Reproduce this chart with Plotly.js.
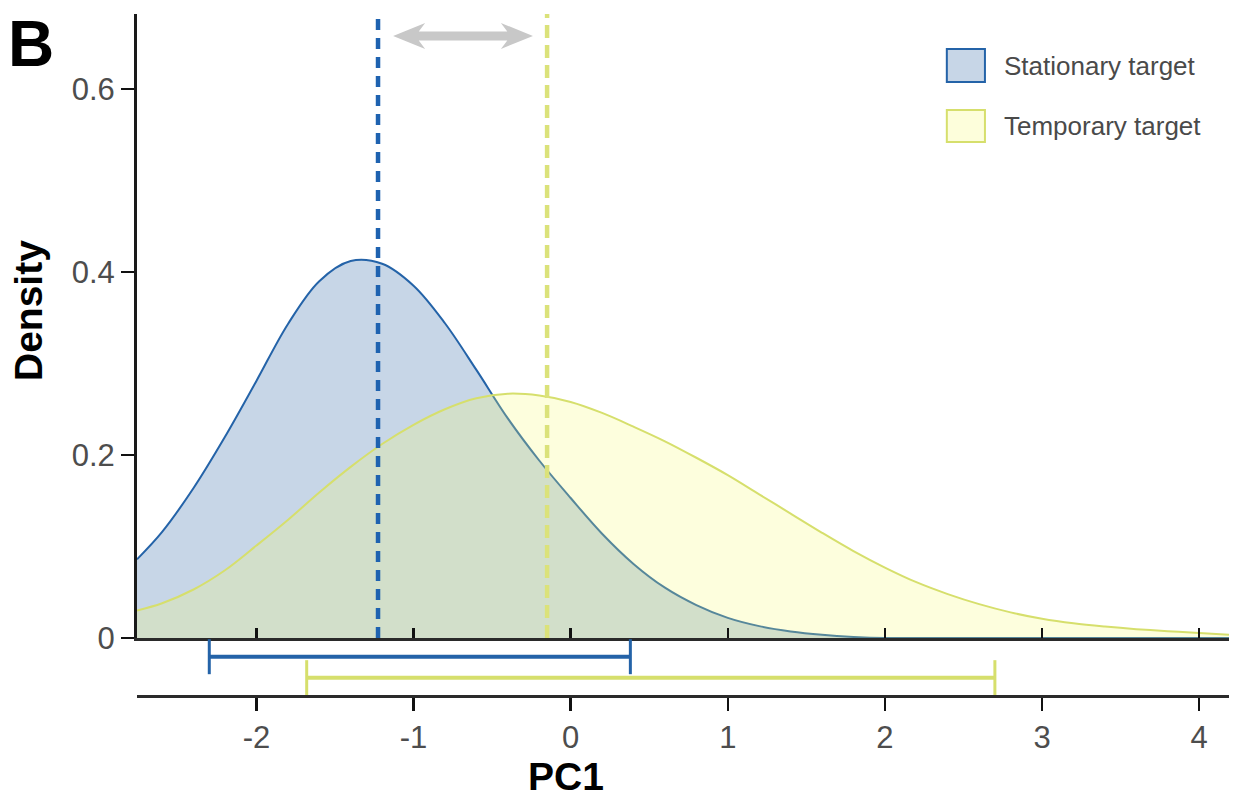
<!DOCTYPE html>
<html>
<head>
<meta charset="utf-8">
<script src="https://cdn.plot.ly/plotly-3.0.1.min.js"></script>
<style>html,body{margin:0;padding:0;background:#fff;}#chart{width:1242px;height:802px;}</style>
</head>
<body>
<div id="chart"></div>
<script>
// ---- data ----
const stationaryX = [-2.76, -2.6, -2.4, -2.2, -2.0, -1.8, -1.6, -1.4, -1.2, -1.0, -0.8, -0.6, -0.4, -0.2, 0.0, 0.2, 0.4, 0.6, 0.8, 1.0, 1.2, 1.4, 1.6, 1.8, 2.0, 2.4, 2.8, 3.2, 3.6, 4.0, 4.19];
const stationaryDensity = [0.086, 0.116, 0.164, 0.220, 0.281, 0.343, 0.390, 0.412, 0.409, 0.385, 0.344, 0.293, 0.240, 0.194, 0.153, 0.114, 0.081, 0.055, 0.036, 0.022, 0.013, 0.0072, 0.0035, 0.0012, 0.0, 0.0, 0.0, 0.0, 0.0, 0.0, 0.0];
const temporaryX = [-2.76, -2.6, -2.4, -2.2, -2.0, -1.8, -1.6, -1.4, -1.2, -1.0, -0.8, -0.6, -0.4, -0.2, 0.0, 0.2, 0.4, 0.6, 0.8, 1.0, 1.2, 1.4, 1.6, 1.8, 2.0, 2.2, 2.4, 2.6, 2.8, 3.0, 3.2, 3.4, 3.6, 3.8, 4.0, 4.19];
const temporaryDensity = [0.030, 0.038, 0.053, 0.074, 0.101, 0.129, 0.159, 0.187, 0.212, 0.233, 0.250, 0.262, 0.267, 0.265, 0.258, 0.246, 0.231, 0.215, 0.197, 0.178, 0.157, 0.136, 0.115, 0.095, 0.077, 0.061, 0.048, 0.037, 0.028, 0.021, 0.016, 0.0125, 0.0097, 0.0075, 0.0055, 0.0035];
const groupMeans = [-1.226, -0.150];          // stationary, temporary
const stationaryInterval = [-2.30, 0.38];
const temporaryInterval = [-1.68, 2.70];
const arrowEnds = [-1.13, -0.24];
const seriesNames = ["Stationary target", "Temporary target"];
const xTicks = [-2, -1, 0, 1, 2, 3, 4];
const xTickText = ["-2", "-1", "0", "1", "2", "3", "4"];
const yTicks = [0, 0.2, 0.4, 0.6];
const yTickText = ["0", "0.2", "0.4", "0.6"];

// ---- styles ----
const blueLine = "#2463a8", blueFill = "rgba(30,90,160,0.25)", blueDash = "#1e62b0";
const yelLine = "#d6df6c", yelFill = "rgba(247,251,113,0.24)", yelDash = "#dbe27a";
const FONT = "Liberation Sans, Arial, Helvetica, sans-serif";
const xRange = [-2.76, 4.19];
const lowerFrac = 0.0837;

const traces = [
  {x: stationaryX, y: stationaryDensity, type: "scatter", mode: "lines", line: {color: blueLine, width: 2, shape: "spline", smoothing: 1},
   fill: "tozeroy", fillcolor: blueFill, xaxis: "x", yaxis: "y", hoverinfo: "skip", showlegend: false},
  {x: temporaryX, y: temporaryDensity, type: "scatter", mode: "lines", line: {color: yelLine, width: 2, shape: "spline", smoothing: 1},
   fill: "tozeroy", fillcolor: yelFill, xaxis: "x", yaxis: "y", hoverinfo: "skip", showlegend: false},
  {x: stationaryInterval, y: [0.672, 0.672], type: "scatter", mode: "lines+markers", line: {color: blueLine, width: 4},
   marker: {symbol: "line-ns", size: 25, line: {color: blueLine, width: 3}}, xaxis: "x2", yaxis: "y2", showlegend: false, hoverinfo: "skip"},
  {x: temporaryInterval, y: [0.304, 0.304], type: "scatter", mode: "lines+markers", line: {color: yelLine, width: 4},
   marker: {symbol: "line-ns", size: 25, line: {color: yelLine, width: 3}}, xaxis: "x2", yaxis: "y2", showlegend: false, hoverinfo: "skip"}
];

// arrow path (x in data units, y in paper units)
const h = 0.204, hh = 0.0191, sh = 0.0066, yc = 0.9677;
const L = arrowEnds[0], R = arrowEnds[1];
const arrowPath = `M${L},${yc} L${L+h},${yc+hh} L${L+0.8*h},${yc+sh} L${R-0.8*h},${yc+sh} L${R-h},${yc+hh} L${R},${yc} L${R-h},${yc-hh} L${R-0.8*h},${yc-sh} L${L+0.8*h},${yc-sh} L${L+h},${yc-hh} Z`;

const shapes = [
  {type: "line", xref: "x", yref: "paper", x0: groupMeans[0], x1: groupMeans[0], y0: lowerFrac, y1: 1,
   line: {color: blueDash, width: 4.5, dash: "11px,8px"}},
  {type: "line", xref: "x", yref: "paper", x0: groupMeans[1], x1: groupMeans[1], y0: lowerFrac, y1: 1,
   line: {color: yelDash, width: 4.5, dash: "13px,7px"}},
  {type: "path", xref: "x", yref: "paper", path: arrowPath, fillcolor: "#c8c8c8", line: {width: 0}},
  // legend boxes
  {type: "rect", xref: "paper", yref: "paper", x0: 0.7416, x1: 0.7765, y0: 0.9001, y1: 0.9486,
   fillcolor: blueFill, line: {color: blueLine, width: 2}},
  {type: "rect", xref: "paper", yref: "paper", x0: 0.7416, x1: 0.7765, y0: 0.812, y1: 0.859,
   fillcolor: "#fdfedb", line: {color: yelLine, width: 2}}
];

// pixel -> paper helpers (plot area: x 137..1229, y 14..695)
const px = v => (v - 137) / 1092;
const py = v => (695 - v) / 681;

const annotations = [
  {xref: "paper", yref: "paper", x: px(1002), y: py(66), xanchor: "left", yanchor: "middle", showarrow: false,
   text: seriesNames[0], font: {family: FONT, size: 26, color: "#4a4a4a"}},
  {xref: "paper", yref: "paper", x: px(1002), y: py(126), xanchor: "left", yanchor: "middle", showarrow: false,
   text: seriesNames[1], font: {family: FONT, size: 26, color: "#4a4a4a"}},
  {xref: "paper", yref: "paper", x: px(6), y: py(44), xanchor: "left", yanchor: "middle", showarrow: false,
   text: "<b>B</b>", font: {family: FONT, size: 64, color: "#000"}},
  {xref: "paper", yref: "paper", x: px(29), y: py(311), xanchor: "center", yanchor: "middle", showarrow: false,
   textangle: -90, text: "<b>Density</b>", font: {family: FONT, size: 39, color: "#000"}},
  {xref: "paper", yref: "paper", x: px(566), y: py(776), xanchor: "center", yanchor: "middle", showarrow: false,
   text: "<b>PC1</b>", font: {family: FONT, size: 39, color: "#000"}}
];

const layout = {
  width: 1242, height: 802,
  margin: {l: 137, r: 13, t: 14, b: 107},
  paper_bgcolor: "#fff", plot_bgcolor: "rgba(0,0,0,0)",
  font: {family: FONT},
  showlegend: false,
  xaxis: {domain: [0, 1], anchor: "y", range: xRange, showline: true, linewidth: 3, linecolor: "#2a2a2a",
          ticks: "inside", ticklen: 10, tickwidth: 2.5, tickcolor: "#111", tickvals: xTicks, showticklabels: false,
          showgrid: false, zeroline: false},
  yaxis: {domain: [lowerFrac, 1], anchor: "x", range: [0, 0.682], showline: true, linewidth: 3, linecolor: "#1a1a1a",
          ticks: "outside", ticklen: 13, tickwidth: 2.5, tickcolor: "#111", tickvals: yTicks, ticktext: yTickText,
          tickfont: {family: FONT, size: 31, color: "#4d4d4d"}, showgrid: false, zeroline: false},
  xaxis2: {domain: [0, 1], anchor: "y2", range: xRange, showline: true, linewidth: 3, linecolor: "#2a2a2a",
           ticks: "outside", ticklen: 13, tickwidth: 2.5, tickcolor: "#111", tickvals: xTicks, ticktext: xTickText,
           tickfont: {family: FONT, size: 31, color: "#4d4d4d"}, showgrid: false, zeroline: false},
  yaxis2: {domain: [0, lowerFrac], anchor: "x2", range: [0, 1], visible: false, fixedrange: true},
  shapes: shapes,
  annotations: annotations
};

Plotly.newPlot("chart", traces, layout, {displayModeBar: false, staticPlot: true});
</script>
</body>
</html>
